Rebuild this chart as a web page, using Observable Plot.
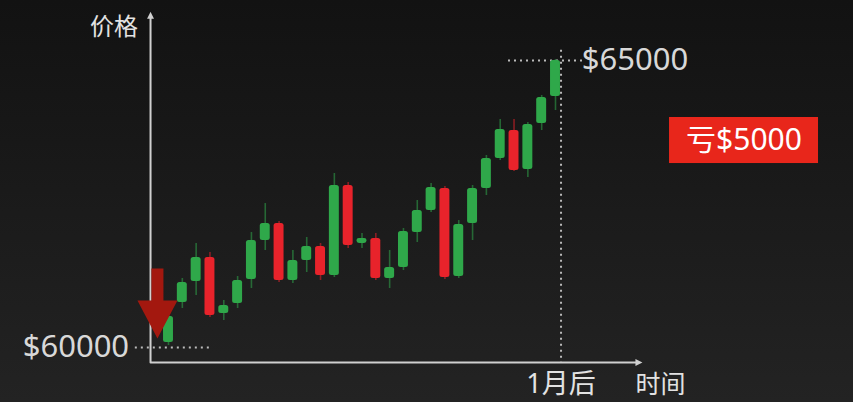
<!DOCTYPE html>
<html><head><meta charset="utf-8">
<script src="https://cdn.jsdelivr.net/npm/d3@7"></script>
<script src="https://cdn.jsdelivr.net/npm/@observablehq/plot@0.6"></script>
<style>
html,body{margin:0;padding:0;}
body{width:853px;height:402px;overflow:hidden;background:linear-gradient(#121212,#232323);}
#chart svg{display:block;background:transparent;}
</style></head><body><div id="chart"></div>
<script>
// candle series (price in USD), one per trading period
const opens  = [60087,60784,61150,61568,60592,60767,61185,61864,62160,61167,61515,61759,61254,62822,61812,61899,61202,61394,62003,62387,62770,61237,62160,62770,63292,63780,63101,63902,64373];
const closes = [60540,61132,61568,60557,60732,61167,61864,62160,61167,61515,61759,61254,62822,61777,61899,61202,61394,62021,62387,62787,61219,62143,62770,63292,63798,63083,63885,64355,65000];
const highs  = [60592,61202,61812,61655,60819,61237,62003,62508,62195,61690,61916,61812,63031,62874,61986,61986,61690,62073,62561,62857,62805,62212,62822,63345,63972,63972,63920,64390,65017];
const lows   = [60035,60679,60906,60523,60470,60679,61028,61690,61132,61115,61307,61167,61219,61725,61725,61167,61028,61341,61829,62352,61185,61202,61864,62648,63258,63066,62961,63780,64129];
const priceTicks  = [60000, 65000];
const priceLabels = ["$60000", "$65000"];
const yTitle = "价格";
const xTitle = "时间";
const timeLabel = "1月后";
const lossLabel = "亏$5000";

const candles = opens.map((o, i) => ({i, open: o, close: closes[i], high: highs[i], low: lows[i], up: closes[i] >= o}));

const GREEN = "#2fa84a", RED = "#e8232b";
const FONT = "'Noto Sans','Noto Sans CJK SC',sans-serif";

// annotation anchors in data units
const axisX = -1.3, axisY = 59740, axisTop = 65780, axisRight = 34;
const endX = 28.4;

const downArrow = {draw(ctx){ctx.moveTo(0,0);ctx.lineTo(-20,-38);ctx.lineTo(-6,-38);ctx.lineTo(-6,-70);ctx.lineTo(6,-70);ctx.lineTo(6,-38);ctx.lineTo(20,-38);ctx.closePath();}};
const triUp = {draw(ctx){ctx.moveTo(0,-4);ctx.lineTo(3.5,3);ctx.lineTo(-3.5,3);ctx.closePath();}};
const triRight = {draw(ctx){ctx.moveTo(4,0);ctx.lineTo(-3,3.5);ctx.lineTo(-3,-3.5);ctx.closePath();}};

const chart = Plot.plot({
  width: 853, height: 402,
  margin: 0,
  style: {background: "transparent", fontFamily: FONT},
  x: {domain: [0, 28], range: [168, 555], axis: null},
  y: {domain: [60000, 65000], range: [347, 60], axis: null},
  marks: [
    // dotted guides
    Plot.ruleY([priceTicks[0]], {x1: -2.4, x2: 3.05, stroke: "#bbbbbb", strokeWidth: 2, strokeDasharray: "2,4"}),
    Plot.ruleY([priceTicks[1]], {x1: 24.6, x2: 30.2, stroke: "#bbbbbb", strokeWidth: 2, strokeDasharray: "2,4"}),
    Plot.ruleX([endX], {y1: 65180, y2: axisY, stroke: "#bbbbbb", strokeWidth: 2, strokeDasharray: "2,4"}),
    // wicks
    Plot.ruleX(candles, {x: "i", y1: "low", y2: "high", stroke: d => d.up ? GREEN : RED, strokeOpacity: 0.55, strokeWidth: 1.6}),
    // bodies
    Plot.rect(candles, {x1: d => d.i - 0.36, x2: d => d.i + 0.36, y1: "open", y2: "close", fill: d => d.up ? GREEN : RED, rx: 2.5}),
    // axes
    Plot.line([[axisX, axisTop], [axisX, axisY], [axisRight, axisY]], {stroke: "#d0d0d0", strokeWidth: 2}),
    Plot.dot([[axisX, axisTop]], {symbol: triUp, fill: "#d0d0d0", stroke: null, r: 4}),
    Plot.dot([[axisRight, axisY]], {symbol: triRight, fill: "#d0d0d0", stroke: null, r: 4}),
    // red down arrow
    Plot.dot([[-0.8, 60157]], {symbol: downArrow, fill: "#a3180f", stroke: null, r: 10}),
    // texts
    Plot.text([yTitle], {x: -2.2, y: 65570, text: d => d, textAnchor: "end", fontSize: 24, fill: "#e2e2e2"}),
    Plot.text([xTitle], {x: 35.6, y: 59355, text: d => d, fontSize: 25, fill: "#e2e2e2"}),
    Plot.text([timeLabel], {x: endX, y: 59355, text: d => d, fontSize: 27, fill: "#e2e2e2"}),
    Plot.text([priceLabels[0]], {x: -2.85, y: priceTicks[0], text: d => d, textAnchor: "end", fontSize: 31, fill: "#d8d8d8"}),
    Plot.text([priceLabels[1]], {x: 29.9, y: priceTicks[1], text: d => d, textAnchor: "start", fontSize: 31, fill: "#d8d8d8"}),
    // loss badge
    Plot.rect([0], {x1: 36.25, x2: 47.03, y1: 63205, y2: 64007, fill: "#e8261b"}),
    Plot.text([lossLabel], {x: 41.64, y: 63606, text: d => d, fontSize: 30, fill: "#ffffff"})
  ]
});
document.getElementById("chart").appendChild(chart);
</script></body></html>
